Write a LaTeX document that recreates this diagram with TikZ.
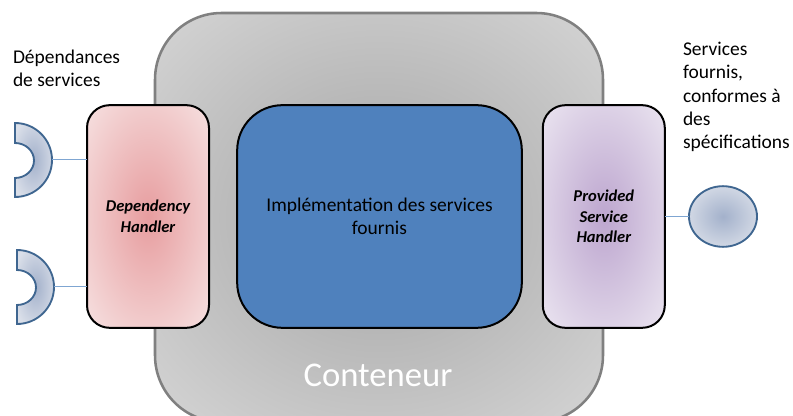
\documentclass[tikz,border=0pt]{standalone}
\usepackage{fontspec}
\setmainfont{Carlito}
\usetikzlibrary{shapes.geometric}
\definecolor{implblue}{HTML}{4F81BD}
\definecolor{portedge}{HTML}{3F6690}
\definecolor{portin}{HTML}{A3B1CB}
\definecolor{portout}{HTML}{DADFE9}
\definecolor{wireblue}{HTML}{7FA6D2}
\definecolor{redin}{HTML}{E79D9F}
\definecolor{redout}{HTML}{F6E0E0}
\definecolor{purin}{HTML}{BDA6CF}
\definecolor{purout}{HTML}{EAE4F0}
\definecolor{grayin}{HTML}{A4A4A4}
\definecolor{grayout}{HTML}{D4D4D4}
\pgfdeclareradialshading{softred}{\pgfpoint{0bp}{0bp}}{color(0bp)=(redin); color(35bp)=(redout); color(50bp)=(redout)}
\pgfdeclareradialshading{softpur}{\pgfpoint{0bp}{0bp}}{color(0bp)=(purin); color(35bp)=(purout); color(50bp)=(purout)}
\pgfdeclareradialshading{softgray}{\pgfpoint{0bp}{0bp}}{color(0bp)=(grayin); color(35bp)=(grayout); color(50bp)=(grayout)}
\pgfdeclareradialshading{softport}{\pgfpoint{0bp}{0bp}}{color(0bp)=(portin); color(30bp)=(portout); color(50bp)=(portout)}
\tikzset{
  every node/.style={inner sep=0pt,outer sep=0pt},
  container/.style={draw=black!50,line width=1.9pt,rounded corners=50pt,shade,shading=softgray},
  handler/.style={draw=black,line width=1.5pt,rounded corners=17pt,minimum width=91.5pt,minimum height=167pt,shade},
  impl/.style={draw=black,line width=1.5pt,rounded corners=34pt,fill=implblue,minimum width=213.5pt,minimum height=167pt},
  port/.style={draw=portedge,line width=1.4pt,shade,shading=softport},
  wire/.style={draw=wireblue,line width=0.75pt},
  handlertext/.style={font=\fontsize{12.4}{15.5}\selectfont\bfseries\itshape,align=center,text=black},
  side/.style={font=\fontsize{14.6}{17.5}\selectfont,align=left,anchor=north west,text=black},
}
\begin{document}
\begin{tikzpicture}[x=0.75pt,y=-0.75pt]
\useasboundingbox (0,0) rectangle (793,416);
\begin{scope}
  \clip (0,0) rectangle (793,416);
  \path[container] (155,13) rectangle (603,422);
\end{scope}
\node[handler,shading=softred] (dep) at (148,216.5) {};
\node[handlertext] (deptext) at (dep.center) {Dependency\\Handler};
\node[handler,shading=softpur] (prov) at (603.8,216.5) {};
\node[handlertext] (provtext) at (prov.center) {Provided\\Service\\Handler};
\node[impl,align=center,font=\fontsize{14.6}{17.5}\selectfont] (imp) at (379.5,216.5) {Implémentation des services\\fournis};
\node[font=\fontsize{26}{30}\selectfont,text=white] (cont) at (378,375) {Conteneur};
\node[side] (lbl1) at (13,50) {Dépendances\\de services};
\node[side] (lbl2) at (683,42) {Services\\fournis,\\conformes à\\des\\spécifications};
\path[port] (15,123) arc[start angle=-90,end angle=90,x radius=37,y radius=37]
  -- (15,178) arc[start angle=90,end angle=-90,x radius=19,y radius=17.5] -- cycle;
\path[port] (17,250) arc[start angle=-90,end angle=90,x radius=37,y radius=37]
  -- (17,305) arc[start angle=90,end angle=-90,x radius=19,y radius=17.5] -- cycle;
\coordinate (p1) at (52,160);
\coordinate (p2) at (54,287);
\node[ellipse,port,minimum width=51pt,minimum height=45.5pt] (out) at (723,216.5) {};
\draw[wire] (p1) -- (p1 -| dep.west);
\draw[wire] (p2) -- (p2 -| dep.west);
\draw[wire] (out.west) -- (out.west -| prov.east);
\end{tikzpicture}
\end{document}
